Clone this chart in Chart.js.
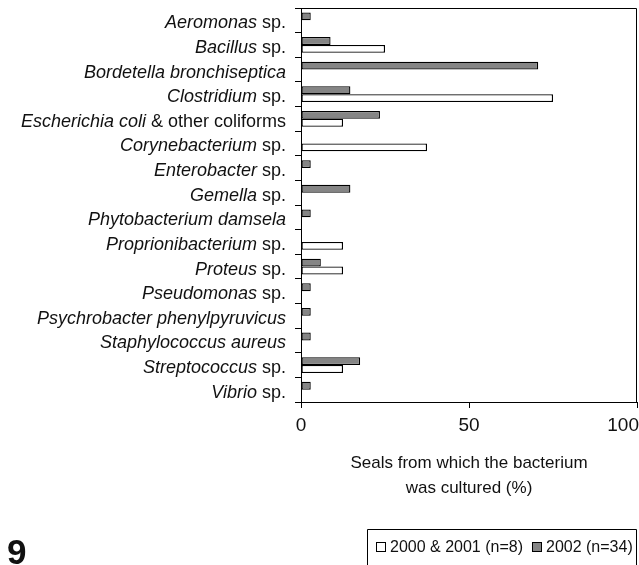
<!DOCTYPE html>
<html>
<head>
<meta charset="utf-8">
<script src="https://cdn.jsdelivr.net/npm/chart.js@4"></script>
<style>
  html, body { margin: 0; padding: 0; background: #fff; }
  #wrap { width: 639px; height: 565px; }
</style>
</head>
<body>
<div id="wrap"><canvas id="bacteriaChart" width="639" height="565"></canvas></div>
<script>
// ─── Data ─────────────────────────────────────────────
const genusNames = [
    'Aeromonas', 'Bacillus', 'Bordetella bronchiseptica', 'Clostridium',
    'Escherichia coli', 'Corynebacterium', 'Enterobacter', 'Gemella',
    'Phytobacterium damsela', 'Proprionibacterium', 'Proteus', 'Pseudomonas',
    'Psychrobacter phenylpyruvicus', 'Staphylococcus aureus', 'Streptococcus', 'Vibrio'
];
const nameSuffixes = [
    ' sp.', ' sp.', '', ' sp.',
    ' & other coliforms', ' sp.', ' sp.', ' sp.',
    '', ' sp.', ' sp.', ' sp.',
    '', '', ' sp.', ' sp.'
];
const categories = genusNames.map((g, i) => g + nameSuffixes[i]);

const values2000_2001 = [0, 25, 0, 75, 12.5, 37.5, 0, 0, 0, 12.5, 12.5, 0, 0, 0, 12.5, 0];
const values2002 = [2.9, 8.8, 70.6, 14.7, 23.5, 0, 2.9, 14.7, 2.9, 0, 5.9, 2.9, 2.9, 2.9, 17.6, 2.9];

const seriesNames = ['2000 & 2001 (n=8)', '2002 (n=34)'];
const xTickValues = [0, 50, 100];
const axisTitle = ['Seals from which the bacterium', 'was cultured (%)'];
const figureNumber = '9';

// ─── Styling ──────────────────────────────────────────
const FONT = "'Liberation Sans', Arial, sans-serif";
const GREY = '#858585';

// ─── Custom drawing: labels, frame, legend ────────────
const decorations = {
    id: 'decorations',
    afterDraw(chart) {
        const ctx = chart.ctx;
        const area = chart.chartArea;
        const xs = chart.scales.x;
        const ys = chart.scales.y;
        ctx.save();

        // frame (top + right)
        ctx.strokeStyle = '#000';
        ctx.lineWidth = 1;
        ctx.beginPath();
        ctx.moveTo(Math.round(area.left) + 0.5, Math.round(area.top) + 0.5);
        ctx.lineTo(Math.round(area.right) - 0.5, Math.round(area.top) + 0.5);
        ctx.lineTo(Math.round(area.right) - 0.5, Math.round(area.bottom));
        ctx.stroke();

        // category labels, italic names + roman suffix
        ctx.fillStyle = '#111';
        ctx.textBaseline = 'middle';
        ctx.textAlign = 'right';
        const labelRight = area.left - 15;
        categories.forEach((c, i) => {
            const y = ys.getPixelForValue(i) + 3;
            ctx.font = '18px ' + FONT;
            const sw = ctx.measureText(nameSuffixes[i]).width;
            if (nameSuffixes[i]) ctx.fillText(nameSuffixes[i], labelRight, y);
            ctx.font = 'italic 18px ' + FONT;
            ctx.fillText(genusNames[i], labelRight - sw, y);
        });

        // x tick labels
        ctx.font = '19px ' + FONT;
        ctx.textAlign = 'center';
        xTickValues.forEach(v => {
            const w = ctx.measureText(String(v)).width;
            let x = xs.getPixelForValue(v);
            x = Math.min(x, chart.width - w / 2);
            ctx.fillText(String(v), x, area.bottom + 24);
        });

        // axis title
        ctx.font = '17px ' + FONT;
        const cx = (area.left + area.right) / 2;
        axisTitle.forEach((line, i) => ctx.fillText(line, cx, area.bottom + 61 + i * 25));

        // figure number
        ctx.font = 'bold 35px ' + FONT;
        ctx.textAlign = 'left';
        ctx.textBaseline = 'alphabetic';
        ctx.fillText(figureNumber, 7, 564);

        // legend
        ctx.strokeStyle = '#000';
        ctx.beginPath();
        ctx.moveTo(367.5, 570);
        ctx.lineTo(367.5, 529.5);
        ctx.lineTo(636.5, 529.5);
        ctx.lineTo(636.5, 570);
        ctx.stroke();
        ctx.font = '16px ' + FONT;
        ctx.textBaseline = 'middle';
        const fills = ['#fff', GREY];
        let lx = 376;
        seriesNames.forEach((name, i) => {
            ctx.fillStyle = fills[i];
            ctx.fillRect(lx + 0.5, 542.5, 9, 9);
            ctx.strokeRect(lx + 0.5, 542.5, 9, 9);
            ctx.fillStyle = '#111';
            ctx.fillText(name, lx + 14, 548);
            lx += 14 + ctx.measureText(name).width + 9;
        });

        ctx.restore();
    }
};

// ─── Chart ────────────────────────────────────────────
new Chart(document.getElementById('bacteriaChart'), {
    type: 'bar',
    data: {
        labels: categories,
        datasets: [
            {
                label: seriesNames[1],
                data: values2002,
                backgroundColor: GREY,
                borderColor: '#000',
                borderWidth: 1.3,
                borderSkipped: false,
                categoryPercentage: 0.64,
                barPercentage: 1.0
            },
            {
                label: seriesNames[0],
                data: values2000_2001,
                backgroundColor: '#fff',
                borderColor: '#000',
                borderWidth: 1.3,
                borderSkipped: false,
                categoryPercentage: 0.64,
                barPercentage: 1.0
            }
        ]
    },
    options: {
        indexAxis: 'y',
        responsive: false,
        animation: false,
        layout: { padding: { top: 8, right: 2, left: 0, bottom: 0 } },
        plugins: { legend: { display: false }, tooltip: { enabled: false } },
        scales: {
            x: {
                min: 0,
                max: 100,
                ticks: { display: false, stepSize: 50 },
                grid: { drawOnChartArea: false, drawTicks: true, tickLength: 6, color: '#000' },
                border: { display: true, color: '#000', width: 1 },
                afterFit: s => { s.height = 163; s.paddingLeft = 0; s.paddingRight = 0; }
            },
            y: {
                ticks: { display: false },
                grid: { offset: true, drawOnChartArea: false, drawTicks: true, tickLength: 6, color: '#000' },
                border: { display: true, color: '#000', width: 1 },
                afterFit: s => { s.width = 301; s.paddingTop = 0; s.paddingBottom = 0; }
            }
        }
    },
    plugins: [decorations]
});
</script>
</body>
</html>
